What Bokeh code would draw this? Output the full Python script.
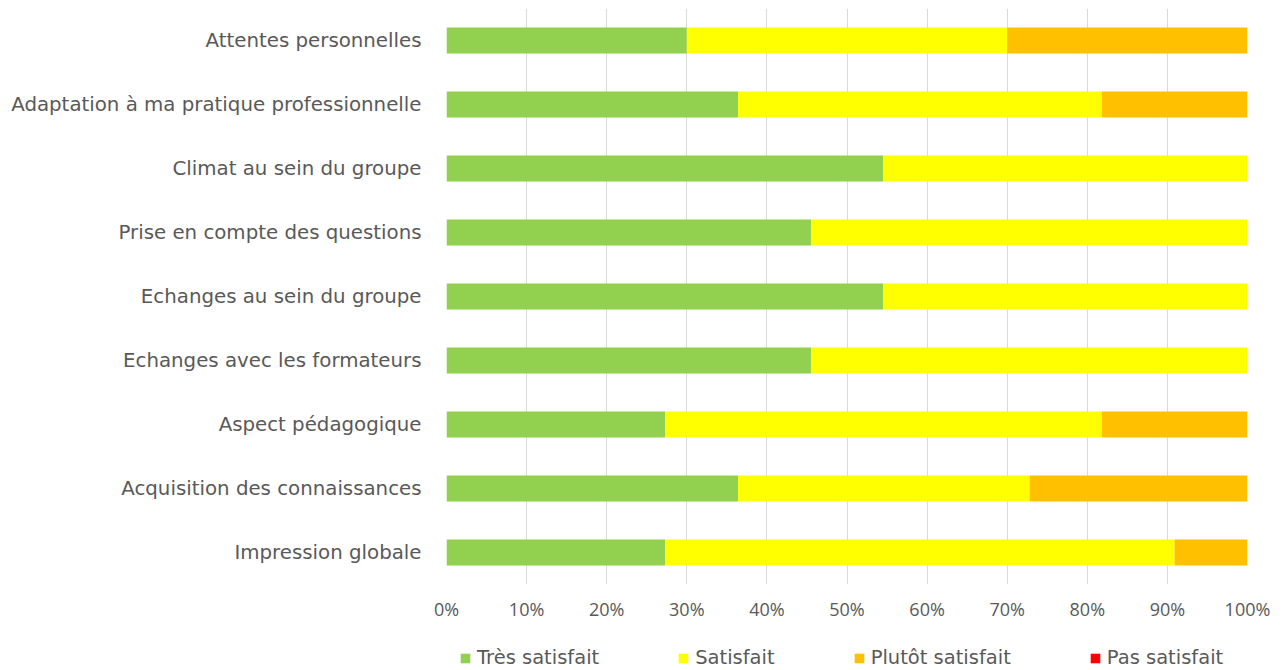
from bokeh.plotting import figure
from bokeh.layouts import column
from bokeh.models import ColumnDataSource, FactorRange, Legend, LegendItem, NumeralTickFormatter, FixedTicker
from bokeh.embed import file_html
from bokeh.resources import INLINE

categories = [
    "Attentes personnelles",
    "Adaptation à ma pratique professionnelle",
    "Climat au sein du groupe",
    "Prise en compte des questions",
    "Echanges au sein du groupe",
    "Echanges avec les formateurs",
    "Aspect pédagogique",
    "Acquisition des connaissances",
    "Impression globale",
]
tres_satisfait = [0.300, 0.364, 0.545, 0.455, 0.545, 0.455, 0.273, 0.364, 0.273]
satisfait = [0.400, 0.454, 0.455, 0.545, 0.455, 0.545, 0.545, 0.364, 0.636]
plutot_satisfait = [0.300, 0.182, 0.000, 0.000, 0.000, 0.000, 0.182, 0.272, 0.091]
pas_satisfait = [0.0, 0.0, 0.0, 0.0, 0.0, 0.0, 0.0, 0.0, 0.0]
series_labels = ["Très satisfait", "Satisfait", "Plutôt satisfait", "Pas satisfait"]
series_keys = ["tres", "sat", "plutot", "pas"]
colors = ["#92D050", "#FFFF00", "#FFC000", "#FF0000"]
x_ticks = [0, 0.1, 0.2, 0.3, 0.4, 0.5, 0.6, 0.7, 0.8, 0.9, 1.0]

source = ColumnDataSource(dict(cat=categories, tres=tres_satisfait, sat=satisfait,
                               plutot=plutot_satisfait, pas=pas_satisfait))

LABEL_FONT = "DejaVu Sans"
TICK_FONT = "Open Sans"
TXT = "#595959"

p = figure(width=1274, height=624, output_backend="svg", toolbar_location=None,
           y_range=FactorRange(factors=list(reversed(categories))),
           x_range=(0, 1))
p.min_border_left = 446
p.min_border_right = 27
p.min_border_top = 8
p.min_border_bottom = 40
p.outline_line_color = None

renderers = p.hbar_stack(series_keys, y="cat", height=0.406, color=colors,
                         line_color=None, source=source)

p.xaxis.ticker = FixedTicker(ticks=x_ticks)
p.xaxis.formatter = NumeralTickFormatter(format="0%")
p.xaxis.axis_line_color = None
p.xaxis.major_tick_line_color = None
p.xaxis.minor_tick_line_color = None
p.xaxis.major_label_standoff = 6
p.xaxis.major_label_text_font = TICK_FONT
p.xaxis.major_label_text_font_size = "18px"
p.xaxis.major_label_text_color = TXT

p.yaxis.axis_line_color = None
p.yaxis.major_tick_line_color = None
p.yaxis.minor_tick_line_color = None
p.yaxis.major_label_standoff = 19
p.yaxis.major_label_text_font = LABEL_FONT
p.yaxis.major_label_text_font_size = "19.8px"
p.yaxis.major_label_text_color = TXT

p.xgrid.grid_line_color = "#D9D9D9"
p.xgrid.grid_line_width = 1
p.ygrid.grid_line_color = None

# legend strip below the chart (its bars lie outside its visible range)
lf = figure(width=1274, height=46, output_backend="svg", toolbar_location=None,
            x_range=(2, 3), y_range=(2, 3), x_axis_type=None, y_axis_type=None,
            min_border=0)
lf.outline_line_color = None
lf.grid.visible = False
leg_renderers = [lf.hbar(y=k, right=k, height=0.1, fill_color=c, line_color=None, source=source)
                 for k, c in zip(series_keys, colors)]
items = [LegendItem(label=lab, renderers=[r]) for lab, r in zip(series_labels, leg_renderers)]
legend = Legend(items=items, orientation="horizontal", location=(13, 1),
                padding=0, margin=0, spacing=78, label_standoff=6,
                glyph_width=12, glyph_height=12, label_height=20,
                label_text_font=LABEL_FONT, label_text_font_size="19.5px",
                label_text_color=TXT, border_line_color=None,
                background_fill_alpha=0)
lf.add_layout(legend, "center")

layout = column(p, lf, spacing=0)
open("out.html", "w").write(file_html(layout, INLINE))
